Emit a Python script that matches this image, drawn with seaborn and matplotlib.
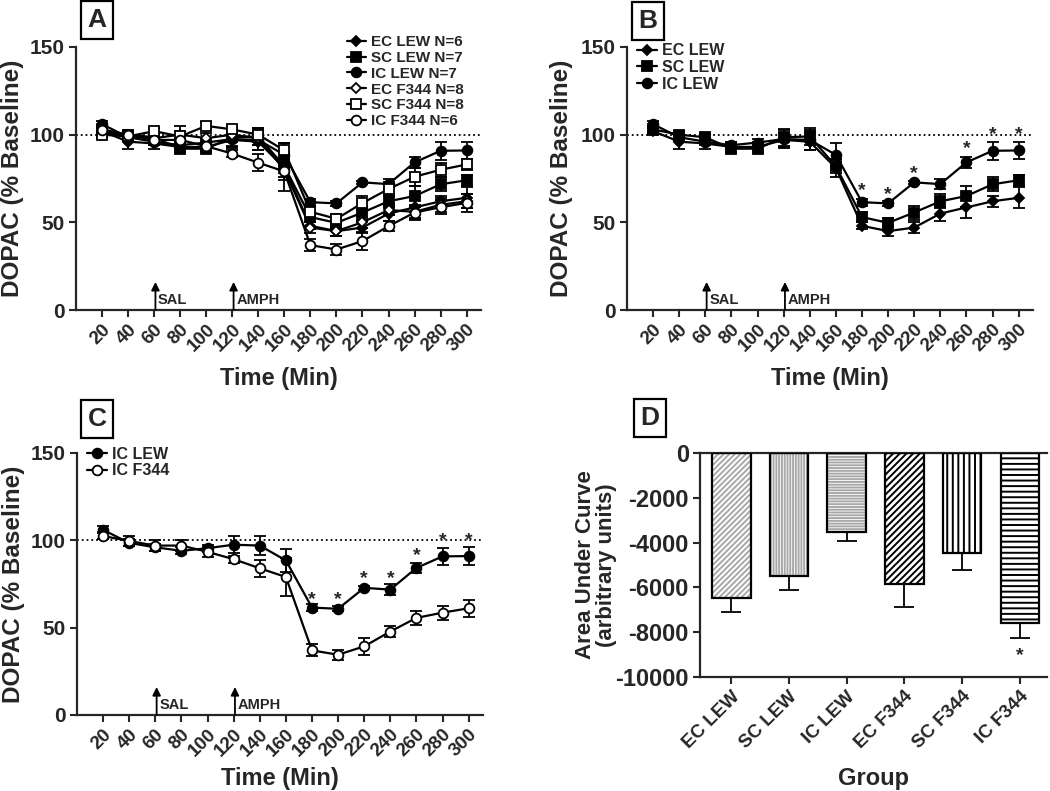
import matplotlib
matplotlib.use("Agg")
import matplotlib.pyplot as plt
from matplotlib.patches import Rectangle
from matplotlib.lines import Line2D
import numpy as np
import pandas as pd
import seaborn as sns

# ---- data ----
times = [20, 40, 60, 80, 100, 120, 140, 160, 180, 200, 220, 240, 260, 280, 300]

ec_lew = [102, 96, 95, 93, 93, 97, 96, 81, 48, 45, 47, 55, 58.5, 62, 64]
ec_lew_sem = [2, 4, 3, 3, 3, 4, 5, 5, 2, 3, 3, 4, 6, 3, 6]
sc_lew = [103, 100, 98.5, 92, 92, 98.5, 99, 82, 53, 49.7, 55.6, 62, 65, 71.7, 74]
sc_lew_sem = [2, 2, 2, 2, 2, 5, 5, 4, 3, 3, 4, 4, 6, 4, 3]
ic_lew = [106, 98.5, 96, 94, 95.5, 97.5, 97, 88.5, 61.5, 60.8, 72.8, 71.8, 84.2, 90.8, 91]
ic_lew_sem = [2, 2, 2, 2, 2, 5, 5.5, 6.5, 2, 1.5, 1, 3, 3, 5, 5]

ec_f344 = [101, 100, 98, 100, 98, 100, 98, 80, 47, 45, 50, 57, 56, 60, 62]
ec_f344_sem = [2, 2, 2, 5, 3, 3, 4, 6, 3, 3, 3, 3, 4, 4, 4]
sc_f344 = [100, 99, 102, 99, 105, 103, 100, 91, 56, 52, 61, 69, 76, 80, 83]
sc_f344_sem = [2, 2, 2, 3, 2, 2, 4, 4, 3, 3, 4, 4, 5, 4, 3]
ic_f344 = [102.5, 99.6, 97, 97, 93.4, 89.2, 84, 79, 37, 34.5, 39.3, 47.8, 55.6, 58.6, 61.1]
ic_f344_sem = [2, 3, 3, 3, 3, 2, 5, 11, 3.5, 3, 5, 3, 4, 4, 5]

# asterisk positions (time, height) for panels B and C
stars_b_t = [180, 200, 220, 260, 280, 300]
stars_b_y = [68, 66, 78, 92, 100, 100]
stars_c_t = [180, 200, 220, 240, 260, 280, 300]
stars_c_y = [66, 66, 78, 78, 91, 100, 100]

groups = ["EC LEW", "SC LEW", "IC LEW", "EC F344", "SC F344", "IC F344"]
auc = [-6460, -5500, -3540, -5870, -4450, -7580]
auc_sem = [660, 600, 400, 1010, 790, 670]
auc_hatch = ["//////", "||||||", "------", "/////", "|||", "---"]
auc_hatch_color = ["#a8a8a8", "#a8a8a8", "#a8a8a8", "black", "black", "black"]

# ---- style ----
sns.set_style("ticks")
plt.rcParams["font.family"] = ["Liberation Sans", "DejaVu Sans"]
plt.rcParams["font.weight"] = "bold"
plt.rcParams["axes.labelweight"] = "bold"
plt.rcParams["axes.linewidth"] = 1.6
plt.rcParams["hatch.linewidth"] = 1.4

fig = plt.figure(figsize=(10.5, 7.91), dpi=100)
W, H = 1050, 791


def px_axes(left, top, right, bottom):
    return fig.add_axes([left / W, 1 - bottom / H, (right - left) / W, (bottom - top) / H])


series = {
    "EC LEW N=6": (ec_lew, ec_lew_sem, "D", "black", 5.5),
    "SC LEW N=7": (sc_lew, sc_lew_sem, "s", "black", 6.5),
    "IC LEW N=7": (ic_lew, ic_lew_sem, "o", "black", 7),
    "EC F344 N=8": (ec_f344, ec_f344_sem, "D", "white", 5.5),
    "SC F344 N=8": (sc_f344, sc_f344_sem, "s", "white", 6.5),
    "IC F344 N=6": (ic_f344, ic_f344_sem, "o", "white", 7),
}


def time_panel(ax, names, xlab_y, ylab_x):
    handles = []
    for name in names:
        vals, sem, mk, fc, ms = series[name]
        ax.errorbar(times, vals, yerr=sem, fmt="none", ecolor="black",
                    elinewidth=1.3, capsize=4, capthick=1.3, zorder=2)
        sns.lineplot(x=times, y=vals, ax=ax, color="black", lw=1.6,
                     marker=mk, markersize=ms, markerfacecolor=fc,
                     markeredgecolor="black", markeredgewidth=1.3, zorder=3)
        handles.append(Line2D([], [], color="black", lw=1.6, marker=mk,
                              markersize=ms, markerfacecolor=fc,
                              markeredgecolor="black", markeredgewidth=1.3))
    ax.axhline(100, ls=":", color="black", lw=1.3, zorder=1)
    ax.set_xlim(0, 311)
    ax.set_ylim(0, 150)
    ax.set_xticks(times)
    ax.set_xticklabels([str(t) for t in times], rotation=45, ha="right",
                       rotation_mode="anchor", fontsize=13.5, fontweight="bold")
    ax.set_yticks([0, 50, 100, 150])
    ax.set_yticklabels(["0", "50", "100", "150"], fontsize=15, fontweight="bold")
    ax.tick_params(direction="out", length=5, width=1.5, pad=3)
    sns.despine(ax=ax)
    ax.set_xlabel("Time (Min)", fontsize=17, fontweight="bold")
    ax.set_ylabel("DOPAC (% Baseline)", fontsize=17.5, fontweight="bold")
    ax.xaxis.set_label_coords(0.5, xlab_y)
    ax.yaxis.set_label_coords(ylab_x, 0.5)
    for t, lab in [(61, "SAL"), (121, "AMPH")]:
        ax.annotate("", xy=(t, 16), xytext=(t, 0),
                    arrowprops=dict(arrowstyle="-|>", color="black", lw=1.3,
                                    mutation_scale=12, shrinkA=0, shrinkB=0))
        ax.text(t + 2, 1.5, lab, fontsize=10.5, fontweight="bold", va="bottom")
    return handles


# Panel A
axA = px_axes(76, 47, 481, 310)
names_a = list(series.keys())
hA = time_panel(axA, names_a, -0.215, -0.128)
axA.legend(hA, names_a, loc="upper right", bbox_to_anchor=(0.98, 1.08),
           frameon=False, handlelength=1.3, handletextpad=0.3,
           labelspacing=0.12, borderpad=0.1, prop=dict(weight="bold", size=11))

# Panel B
axB = px_axes(627, 47, 1033, 310)
lew = ["EC LEW N=6", "SC LEW N=7", "IC LEW N=7"]
hB = time_panel(axB, lew, -0.215, -0.132)
axB.legend(hB, ["EC LEW", "SC LEW", "IC LEW"], loc="upper left", bbox_to_anchor=(0.0, 1.05),
           frameon=False, handlelength=1.3, handletextpad=0.3,
           labelspacing=0.1, borderpad=0.1, prop=dict(weight="bold", size=11.5))
for t, y in zip(stars_b_t, stars_b_y):
    axB.text(t, y, "*", ha="center", va="center", fontsize=14, fontweight="bold")

# Panel C
axC = px_axes(77, 453, 483, 715)
ic = ["IC LEW N=7", "IC F344 N=6"]
hC = time_panel(axC, ic, -0.2, -0.128)
axC.legend(hC, ["IC LEW", "IC F344"], loc="upper left", bbox_to_anchor=(0.0, 1.06),
           frameon=False, handlelength=1.3, handletextpad=0.3,
           labelspacing=0.1, borderpad=0.1, prop=dict(weight="bold", size=11.5))
for t, y in zip(stars_c_t, stars_c_y):
    axC.text(t, y, "*", ha="center", va="center", fontsize=14, fontweight="bold")

# Panel D
axD = px_axes(700, 453, 1047, 677)
df = pd.DataFrame({"group": groups, "auc": auc})
sns.barplot(data=df, x="group", y="auc", order=groups, color="white",
            width=0.67, ax=axD, errorbar=None, zorder=2)
bars = list(axD.patches)
for p, hatch, hc in zip(bars, auc_hatch, auc_hatch_color):
    p.set_facecolor("white")
    p.set_hatch(hatch)
    p.set_edgecolor(hc)
    p.set_linewidth(0)
    axD.add_patch(Rectangle(p.get_xy(), p.get_width(), p.get_height(), fill=False,
                            edgecolor="black", lw=1.6, zorder=3))
axD.errorbar(range(len(groups)), auc, yerr=[auc_sem, [0] * len(auc_sem)], fmt="none",
             ecolor="black", elinewidth=1.3, capsize=7.5, capthick=1.3, zorder=1)
axD.text(5, -9050, "*", ha="center", va="center", fontsize=14, fontweight="bold")
axD.set_xlim(-0.54, 5.47)
axD.set_ylim(-10000, 0)
axD.set_yticks(np.arange(-10000, 1, 2000))
axD.set_yticklabels([str(v) for v in np.arange(-10000, 1, 2000)], fontsize=17,
                    fontweight="bold")
axD.set_xticks(range(len(groups)))
axD.set_xticklabels(groups, rotation=45, ha="right", rotation_mode="anchor",
                    fontsize=13.5, fontweight="bold")
axD.tick_params(direction="out", length=5, width=1.5, pad=3)
axD.spines["right"].set_visible(False)
axD.tick_params(axis="x", top=False)
axD.set_xlabel("Group", fontsize=17, fontweight="bold")
axD.set_ylabel("Area Under Curve\n(arbitrary units)", fontsize=16, fontweight="bold",
               linespacing=1.0)
axD.xaxis.set_label_coords(0.5, -0.40)
axD.yaxis.set_label_coords(-0.24, 0.5)

# panel letters
for lab, (x, y) in zip("ABCD", [(97, 20), (648, 21), (97, 419), (650, 418)]):
    fig.text(x / W, 1 - y / H, lab, ha="center", va="center", fontsize=19,
             fontweight="bold",
             bbox=dict(boxstyle="square,pad=0.25", fc="white", ec="black", lw=1.6))

fig.savefig("out.png", dpi=100)
